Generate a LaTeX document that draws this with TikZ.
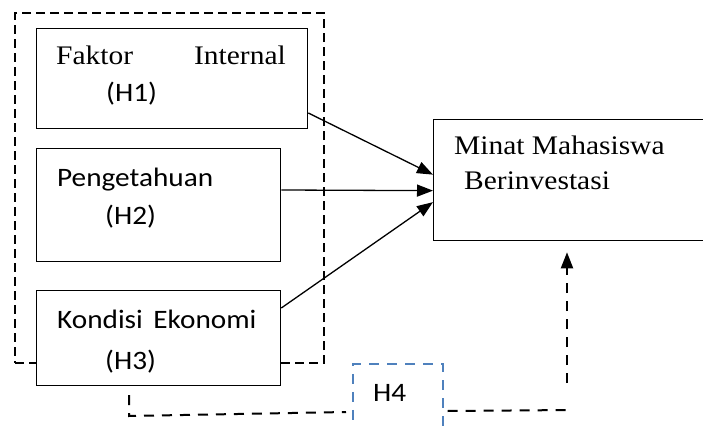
\documentclass[tikz,border=0pt]{standalone}
\usepackage{fontspec}
\setmainfont{Liberation Serif}
\newfontfamily\tnrfont[FakeStretch=1.1]{Liberation Serif}
\newfontfamily\calfont[FakeStretch=1.1]{Carlito}
\usetikzlibrary{arrows.meta,calc}
\definecolor{hfourblue}{RGB}{79,129,189}
\begin{document}
\begin{tikzpicture}[x=1pt,y=-1pt,
  box/.style={draw,line width=1.3pt,fill=white,inner sep=0pt,anchor=north west},
  grp/.style={draw,line width=2.1pt,dash pattern=on 9pt off 5pt,inner sep=0pt,anchor=north west},
  hyp/.style={draw,line width=2pt,dash pattern=on 10pt off 8pt},
  hfour/.style={draw=hfourblue,line width=1.6pt,dash pattern=on 10pt off 8pt,inner sep=0pt,anchor=north west},
  tip/.style={-{Triangle[length=16pt,width=12pt]}},
  arr/.style={line width=1.3pt,tip},
  ttxt/.style={font=\tnrfont\fontsize{26.8}{30}\selectfont,inner sep=0pt,anchor=base west},
  ctxt/.style={font=\calfont\fontsize{26.6}{30}\selectfont,inner sep=0pt,anchor=base west}]
\clip (0,0) rectangle (703,427);
% group frame
\node[grp,minimum width=309pt,minimum height=350pt] (grp) at (14,12) {};
% boxes
\node[box,minimum width=271pt,minimum height=100pt] (h1) at (36,28) {};
\node[box,minimum width=244pt,minimum height=113pt] (h2) at (36,148) {};
\node[box,minimum width=244pt,minimum height=95pt] (h3) at (36,290) {};
\node[box,minimum width=290pt,minimum height=121pt] (minat) at (433,119) {};
% texts
\node[ttxt] (t1a) at (56,65) {Faktor};
\node[ttxt,anchor=base east] (t1b) at (286,65) {Internal};
\node[ctxt] (t1c) at (106,102) {(H1)};
\node[ctxt] (t2a) at (57,187) {Pengetahuan};
\node[ctxt] (t2b) at (105,225) {(H2)};
\node[ctxt] (t3a) at (57,328) {Kondisi\hspace{4pt} Ekonomi};
\node[ctxt] (t3b) at (105,369) {(H3)};
\node[ttxt] (t4a) at (454,155) {Minat Mahasiswa};
\node[ttxt] (t4b) at (464,190) {Berinvestasi};
% arrows
\draw[arr] ([yshift=-85pt]h1.north east) -- ([yshift=5.5pt]minat.west);
\draw[arr] ([yshift=-42pt]h2.north east) -- ([yshift=-10.5pt]minat.west);
\draw[arr] ([yshift=-18pt]h3.north east) -- ([yshift=-22pt]minat.west);
% H4 box
\node[hfour,minimum width=90pt,minimum height=80pt] (h4) at (352,363) {};
\node[ctxt] (t5) at (373,401) {H4};
% moderating connectors
\coordinate (c1) at (129,395);
\coordinate (c2) at (129,416);
\coordinate (c3) at (573,410);
\coordinate (c4) at (567,383);
\draw[hyp] (c1) -- (c2) -- ($(h4.north west)+(-6,49)$);
\draw[hyp] ($(h4.north east)+(4,48)$) -- (c3);
\draw[hyp,tip] (c4) -- ($(minat.south west)+(134,11)$);
\end{tikzpicture}
\end{document}
